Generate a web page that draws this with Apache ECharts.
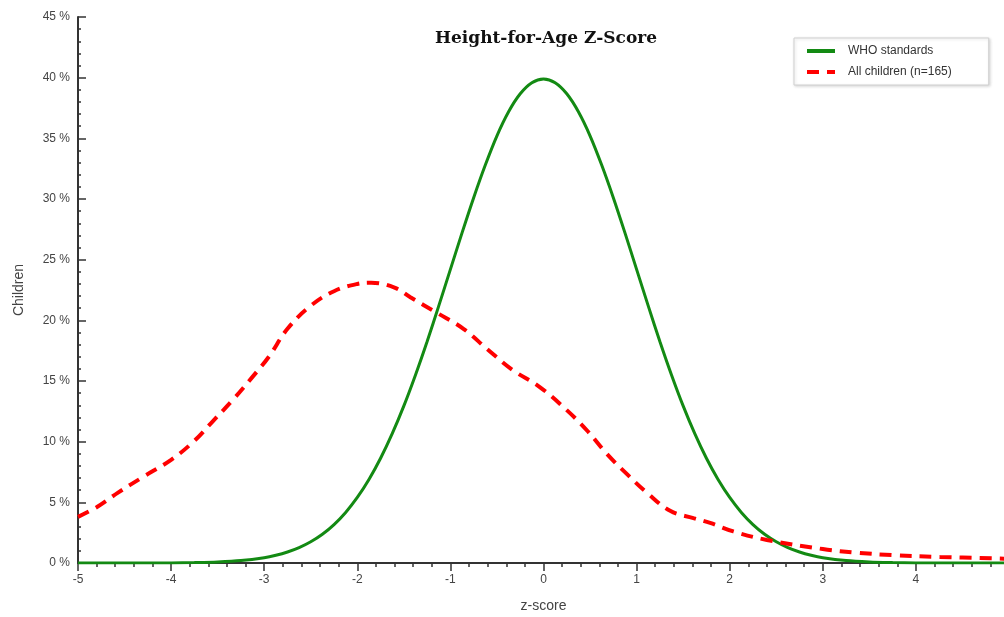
<!DOCTYPE html>
<html>
<head>
<meta charset="utf-8">
<script src="https://cdn.jsdelivr.net/npm/echarts@6/dist/echarts.min.js"></script>
<style>
  html, body { margin: 0; padding: 0; background: #fff; }
  #main { width: 1004px; height: 617px; }
</style>
</head>
<body>
<div id="main"></div>
<script>
// WHO reference curve
const whoZ = [-5, -4.5, -4, -3.75, -3.5, -3.25, -3, -2.875, -2.75, -2.625, -2.5, -2.375, -2.25, -2.125, -2, -1.875, -1.75, -1.625,
  -1.5, -1.375, -1.25, -1.125, -1, -0.875, -0.75, -0.625, -0.5, -0.375, -0.25, -0.125,
  0, 0.125, 0.25, 0.375, 0.5, 0.625, 0.75, 0.875, 1, 1.125, 1.25, 1.375, 1.5, 1.625, 1.75, 1.875,
  2, 2.125, 2.25, 2.375, 2.5, 2.625, 2.75, 2.875, 3, 3.25, 3.5, 3.75, 4, 4.5, 5]
const whoValues = [0, 0, 0.01, 0.04, 0.09, 0.2, 0.44, 0.64, 0.91, 1.27, 1.75, 2.37, 3.17, 4.17, 5.4, 6.88, 8.63, 10.66,
  12.95, 15.5, 18.26, 21.19, 24.2, 27.21, 30.11, 32.8, 35.21, 37.19, 38.67, 39.58,
  39.89, 39.58, 38.67, 37.19, 35.21, 32.8, 30.11, 27.21, 24.2, 21.19, 18.26, 15.5, 12.95, 10.66, 8.63, 6.88,
  5.4, 4.17, 3.17, 2.37, 1.75, 1.27, 0.91, 0.64, 0.44, 0.2, 0.09, 0.04, 0.01, 0, 0]

// sample of children (n=165)
const childZ = [-5, -4.8, -4.57, -4.3, -4, -3.76, -3.55, -3.33, -3.13, -2.95, -2.75, -2.5, -2.25, -2, -1.85, -1.6, -1.43, -1.14,
  -0.86, -0.6, -0.33, -0.04, 0.25, 0.47, 0.68, 0.9, 1.11, 1.36, 1.61, 1.79, 2.04, 2.4, 3, 3.37, 3.75, 4.26, 5]
const childValues = [3.8, 4.6, 5.8, 7.1, 8.5, 10.0, 11.7, 13.5, 15.3, 17.0, 19.3, 21.2, 22.4, 23.0, 23.1, 22.7, 21.9, 20.6,
  19.3, 17.6, 15.9, 14.5, 12.6, 10.9, 9.0, 7.3, 5.8, 4.3, 3.7, 3.3, 2.6, 1.9, 1.15, 0.85, 0.65, 0.5, 0.35]

const chart = echarts.init(document.getElementById('main'))

const axisColor = '#333'
const labelColor = '#444'

chart.setOption({
  backgroundColor: '#fff',
  animation: false,
  title: {
    text: 'Height-for-Age Z-Score',
    left: 541,
    top: 25,
    textAlign: 'center',
    textStyle: { fontFamily: 'DejaVu Serif', fontWeight: 'bold', fontSize: 17, color: '#111' }
  },
  legend: {
    orient: 'vertical',
    left: 794,
    top: 38,
    padding: [7, 37, 7, 11],
    itemWidth: 28,
    itemHeight: 10,
    itemGap: 9,
    backgroundColor: '#fff',
    borderColor: '#d0d0d0',
    borderWidth: 1,
    shadowColor: 'rgba(0,0,0,0.15)',
    shadowBlur: 3,
    shadowOffsetX: 1,
    shadowOffsetY: 1,
    itemStyle: { color: 'transparent', borderWidth: 0 },
    lineStyle: { width: 4 },
    textStyle: { fontFamily: 'Liberation Sans', fontSize: 12, color: '#333', padding: [0, 0, 0, 8] },
    data: ['WHO standards', 'All children (n=165)']
  },
  grid: { left: 78, top: 17, width: 931, height: 546, outerBoundsMode: 'none' },
  xAxis: {
    type: 'value',
    min: -5,
    max: 5,
    interval: 1,
    name: 'z-score',
    nameLocation: 'middle',
    nameGap: 36,
    nameTextStyle: { fontFamily: 'Liberation Sans', fontSize: 14, color: labelColor },
    axisLine: { onZero: false, lineStyle: { color: axisColor, width: 2 } },
    axisTick: { length: 8, lineStyle: { color: axisColor, width: 1.5 } },
    minorTick: { show: true, splitNumber: 5, length: 4, lineStyle: { color: axisColor, width: 1.5 } },
    axisLabel: { fontFamily: 'Liberation Sans', fontSize: 12, color: labelColor, margin: 11 },
    splitLine: { show: false }
  },
  yAxis: {
    type: 'value',
    min: 0,
    max: 45,
    interval: 5,
    name: 'Children',
    nameLocation: 'middle',
    nameRotate: 90,
    nameGap: 52,
    nameTextStyle: { fontFamily: 'Liberation Sans', fontSize: 14, color: labelColor },
    axisLine: { show: true, onZero: false, lineStyle: { color: axisColor, width: 2 } },
    axisTick: { show: true, inside: true, length: 8, lineStyle: { color: axisColor, width: 1.5 } },
    minorTick: { show: true, splitNumber: 5, length: 3, lineStyle: { color: axisColor, width: 1.5 } },
    axisLabel: { fontFamily: 'Liberation Sans', fontSize: 12, color: labelColor, margin: 8, formatter: '{value} %' },
    splitLine: { show: false }
  },
  series: [
    {
      name: 'WHO standards',
      type: 'line',
      smooth: 0.3,
      symbol: 'none',
      z: 3,
      data: whoZ.map((z, i) => [z, whoValues[i]]),
      itemStyle: { color: '#138a13' },
      lineStyle: { color: '#138a13', width: 3 }
    },
    {
      name: 'All children (n=165)',
      type: 'line',
      smooth: 0.4,
      symbol: 'none',
      z: 4,
      data: childZ.map((z, i) => [z, childValues[i]]),
      itemStyle: { color: '#ff0000' },
      lineStyle: { color: '#ff0000', width: 4, type: [12, 8] }
    }
  ]
})
</script>
</body>
</html>
